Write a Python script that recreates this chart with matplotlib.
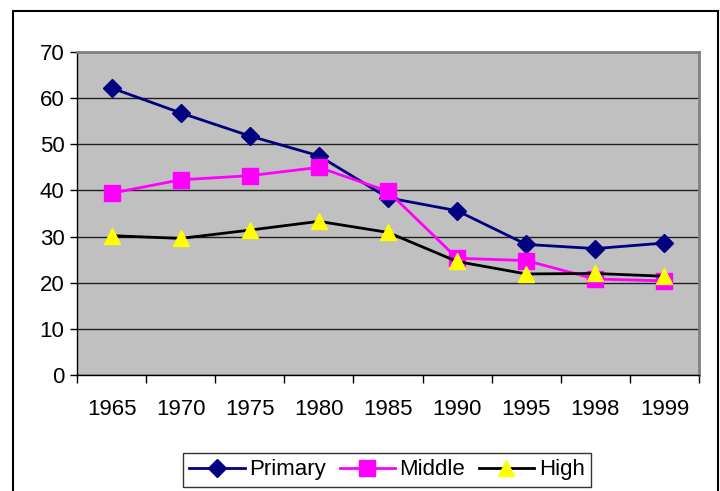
import matplotlib
matplotlib.use('Agg')
import matplotlib.pyplot as plt
import matplotlib.patches as patches
import numpy as np

plt.rcParams['font.family'] = ['Liberation Sans', 'DejaVu Sans']

# Data
years = ['1965', '1970', '1975', '1980', '1985', '1990', '1995', '1998', '1999']
primary = [62.2, 56.8, 51.8, 47.5, 38.4, 35.6, 28.3, 27.4, 28.6]
middle = [39.4, 42.3, 43.2, 45.0, 39.8, 25.3, 24.8, 20.8, 20.4]
high = [30.2, 29.6, 31.4, 33.3, 30.9, 24.6, 21.9, 22.0, 21.4]
y_ticks = [0, 10, 20, 30, 40, 50, 60, 70]

fig = plt.figure(figsize=(7.2, 4.91), dpi=100)
ax = fig.add_axes([77 / 720, 1 - 375 / 491, (699 - 77) / 720, (375 - 52) / 491])
ax.set_facecolor('#C0C0C0')

# outer chart frame (bottom edge runs off the image)
frame = patches.Rectangle((13 / 720, -0.02), (718 - 13) / 720, 1 - 11 / 491 + 0.02,
                          transform=fig.transFigure, fill=False,
                          edgecolor='black', linewidth=1.5, clip_on=False)
fig.patches.append(frame)

x = np.arange(len(years))
ax.plot(x, primary, color='#000080', linewidth=2, marker='D', markersize=9.5,
        markerfacecolor='#000080', markeredgecolor='#000080', label='Primary', zorder=3)
ax.plot(x, middle, color='#FF00FF', linewidth=2, marker='s', markersize=11.5,
        markerfacecolor='#FF00FF', markeredgecolor='#FF00FF', label='Middle', zorder=4)
ax.plot(x, high, color='black', linewidth=2, marker='^', markersize=11,
        markerfacecolor='#FFFF00', markeredgecolor='#FFFF00', label='High', zorder=5)

ax.set_xlim(-0.5, len(years) - 0.5)
ax.set_ylim(0, 70)
ax.set_yticks(y_ticks)
ax.set_xticks(x)
ax.set_xticklabels(years)
ax.set_xticks(np.arange(-0.5, len(years)), minor=True)
ax.tick_params(axis='x', which='major', length=0, labelsize=16, pad=17)
ax.tick_params(axis='x', which='minor', length=6, width=1, color='black', direction='out')
ax.tick_params(axis='y', length=5, width=1, labelsize=16, pad=4)

ax.grid(axis='y', color='#202020', linewidth=1)
ax.set_axisbelow(True)

for side in ['top', 'right']:
    ax.spines[side].set_color('#808080')
    ax.spines[side].set_linewidth(2)
for side in ['left', 'bottom']:
    ax.spines[side].set_color('black')
    ax.spines[side].set_linewidth(1)

leg = fig.legend(loc='lower center', bbox_to_anchor=(387 / 720, 4 / 491), ncol=3,
                 fontsize=16, frameon=True, fancybox=False, handlelength=2.5,
                 handletextpad=0.2, columnspacing=0.6, borderpad=0.3,
                 borderaxespad=0)
leg.get_frame().set_edgecolor('black')
leg.get_frame().set_linewidth(1)

fig.savefig('out.png', dpi=100)
